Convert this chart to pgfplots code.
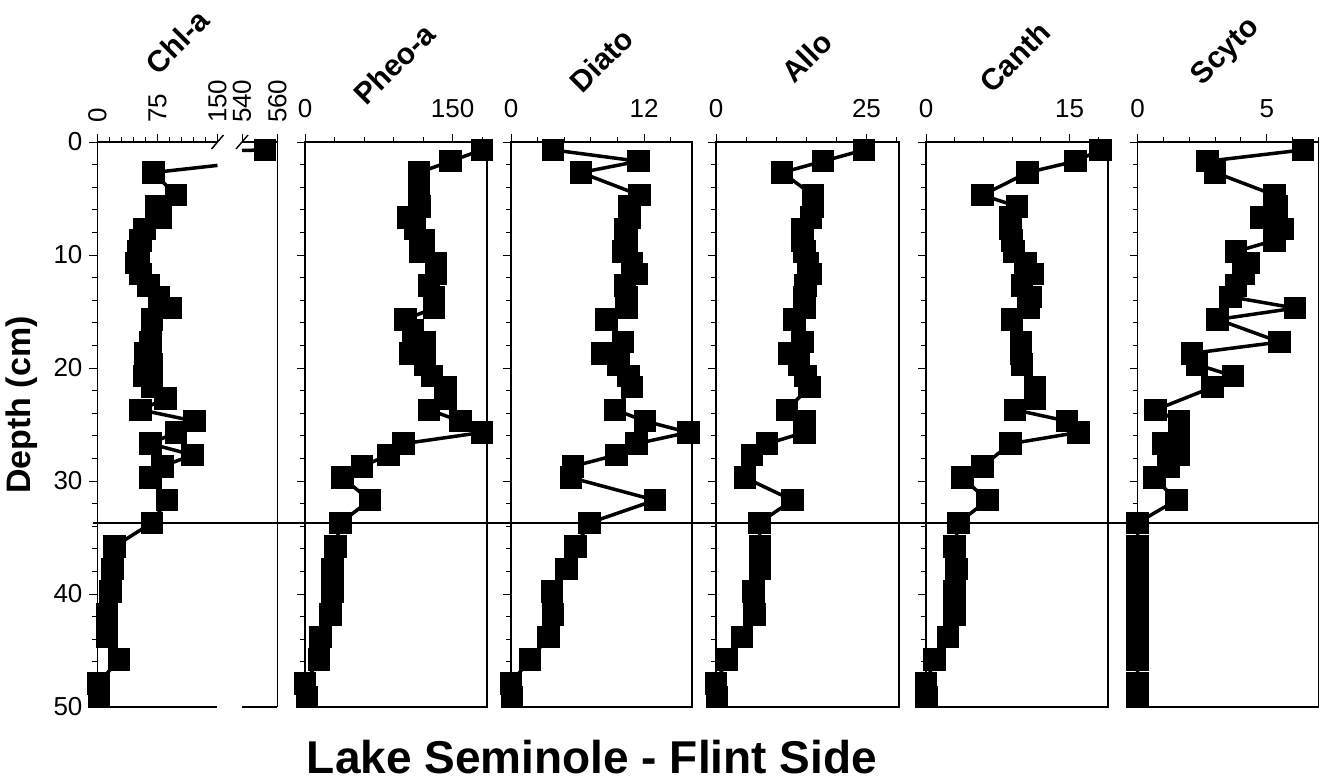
\documentclass[border=0pt]{standalone}
\usepackage{pgfplots}
\pgfplotsset{compat=1.18}
\usepackage{fontspec}
\setmainfont{Liberation Sans}
\pgfplotsset{
  panel/.style={
    scale only axis,
    height=282.5pt,
    anchor=south west,
    y dir=reverse,
    ymin=0, ymax=50,
    ytick={0,10,...,50},
    minor ytick={2,4,...,48},
    tick align=outside,
    xtick pos=right, xticklabel pos=right,
    ytick pos=left,
    major tick length=4pt,
    minor tick length=2.5pt,
    tick style={black, line width=0.5pt},
    axis line style={line width=0.9pt},
    ticklabel style={font=\fontsize{13}{15}\selectfont},
    /pgf/number format/assume math mode=true,
    clip=false,
    xmin=0,
  },
  upl/.style={xticklabel style={yshift=4.5pt}},
  rotl/.style={xticklabel style={yshift=2pt, rotate=90, anchor=west}},
  ser/.style={black, line width=1.75pt, mark=square*, mark size=4.75pt, mark options={solid}},
}
\begin{document}
\begin{tikzpicture}[x=1pt,y=1pt]
\useasboundingbox (0,0) rectangle (662,391);

% ---- Chl-a, left part (0-150)
\begin{axis}[panel, rotl, at={(48.75pt,37.5pt)}, width=60pt, xmin=0, xmax=150,
  xtick={0,75,150}, minor xtick={15,30,45,60,90,105,120,135},
  axis line style={draw=none}]
\addplot[ser, mark phase=2, mark repeat=1] coordinates {
(150,2.07) (70,2.7) (98,4.7) (73,5.7) (79,6.7) (59,7.7) (54,8.7) (51,9.7) (49,10.7)
(54,11.7) (64,12.7) (77,13.7) (92,14.7) (68,15.7) (66,17.7) (60,18.7) (68,19.7)
(58,20.7) (68,21.7) (85,22.7) (54,23.7) (121,24.7) (98,25.7) (66,26.7) (119,27.7)
(81,28.7) (66,29.7) (87,31.7) (68,33.7) (21,35.8) (19,37.8) (16,39.8) (12,41.8)
(12,43.8) (27,45.8) (1,47.9) (2,49.1)};
\draw[line width=0.9pt] (axis cs:0,0) -- (axis cs:150,0);
\draw[line width=0.9pt] (axis cs:0,50) -- (axis cs:150,50);
\draw[line width=0.9pt] (axis cs:0,0) -- (axis cs:0,50);
\draw[line width=0.7pt] ([xshift=-3pt,yshift=-3.5pt]axis cs:150,0) -- ([xshift=3pt,yshift=3.5pt]axis cs:150,0);
\draw[line width=0.8pt] (axis cs:-6,33.7) -- (axis cs:1527,33.7);
\end{axis}

% ---- Chl-a, right part (540-560)
\begin{axis}[panel, rotl, at={(121pt,37.5pt)}, width=17.75pt, xmin=540, xmax=560,
  xtick={540,560}, minor xtick={}, ytick=\empty, minor ytick={},
  axis line style={draw=none}]
\addplot[ser, mark repeat=100] coordinates {(553,0.7) (540,0.75)};
\draw[line width=0.9pt] (axis cs:540,0) -- (axis cs:560,0);
\draw[line width=0.9pt] (axis cs:540,50) -- (axis cs:560,50);
\draw[line width=0.9pt] (axis cs:560,0) -- (axis cs:560,50);
\draw[line width=0.7pt] ([xshift=-3pt,yshift=-3.5pt]axis cs:540,0) -- ([xshift=3pt,yshift=3.5pt]axis cs:540,0);
\end{axis}

% ---- Pheo-a
\begin{axis}[panel, upl, at={(152.5pt,37.5pt)}, width=91pt, xmax=185,
  xtick={0,150}, minor xtick={30,60,90,120,180}, yticklabels={}]
\addplot[ser] coordinates {
(180,0.7) (148,1.7) (116,2.7) (116,4.7) (117,5.7) (105,6.7) (112,7.7) (121,8.7)
(117,9.7) (133,10.7) (133,11.7) (126,12.7) (131,13.7) (131,14.7) (102,15.7)
(110,16.7) (122,17.7) (107,18.7) (122,19.7) (129,20.7) (143,21.7) (143,22.7)
(126,23.7) (158,24.7) (180,25.7) (100,26.7) (85,27.7) (58,28.7) (38,29.7)
(66,31.7) (36,33.7) (31,35.8) (28,37.8) (28,39.8) (26,41.8) (16,43.8) (14,45.8)
(0,47.9) (2,49.1)};
\end{axis}

% ---- Diato
\begin{axis}[panel, upl, at={(255.5pt,37.5pt)}, width=90.5pt, xmax=16.33,
  xtick={0,12}, minor xtick={2.4,4.8,7.2,9.6,14.4}, yticklabels={}]
\addplot[ser] coordinates {
(3.8,0.7) (11.5,1.7) (6.3,2.7) (11.6,4.7) (10.7,5.7) (10.7,6.7) (10.3,7.7)
(10.4,8.7) (10.1,9.7) (10.9,10.7) (11.3,11.7) (10.3,12.7) (10.4,13.7) (10.4,14.7)
(8.6,15.7) (10.1,17.7) (8.2,18.7) (9.7,19.7) (10.6,20.7) (10.9,21.7) (9.4,23.7)
(12.1,24.7) (16.0,25.7) (11.3,26.7) (9.5,27.7) (5.6,28.7) (5.4,29.7) (13.0,31.7)
(7.1,33.7) (5.8,35.8) (5.0,37.8) (3.7,39.8) (3.8,41.8) (3.4,43.8) (1.7,45.8)
(0,47.9) (0.1,49.1)};
\end{axis}

% ---- Allo
\begin{axis}[panel, upl, at={(358pt,37.5pt)}, width=91.5pt, xmax=30.4,
  xtick={0,25}, minor xtick={5,10,15,20,30}, yticklabels={}]
\addplot[ser] coordinates {
(24.6,0.7) (17.8,1.7) (11.0,2.7) (16.1,4.7) (16.1,5.7) (15.8,6.7) (14.4,7.7)
(14.4,8.7) (14.7,9.7) (15.3,10.7) (15.8,11.7) (14.9,12.7) (14.7,13.7) (14.7,14.7)
(13.0,15.7) (14.4,17.7) (12.1,18.7) (13.8,19.7) (14.9,20.7) (15.5,21.7) (11.8,23.7)
(14.7,24.7) (14.7,25.7) (8.5,26.7) (6.0,27.7) (4.8,29.7) (12.7,31.7) (7.2,33.7)
(7.3,35.8) (7.3,37.8) (6.2,39.8) (6.4,41.8) (4.3,43.8) (1.8,45.8) (0,47.9) (0.2,49.1)};
\end{axis}

% ---- Canth
\begin{axis}[panel, upl, at={(463pt,37.5pt)}, width=91pt, xmax=19,
  xtick={0,15}, minor xtick={3,6,9,12,18}, yticklabels={}]
\addplot[ser] coordinates {
(18.2,0.7) (15.6,1.7) (10.6,2.7) (5.9,4.7) (9.5,5.7) (8.8,6.7) (8.8,7.7) (9.0,8.7)
(9.2,9.7) (10.4,10.7) (11.1,11.7) (10.0,12.7) (10.9,13.7) (10.7,14.7) (9.0,15.7)
(9.9,17.7) (9.9,18.7) (10.0,19.7) (11.4,21.7) (11.4,22.7) (9.3,23.7) (14.7,24.7)
(15.9,25.7) (8.8,26.7) (5.9,28.7) (3.8,29.7) (6.4,31.7) (3.4,33.7) (3.0,35.8)
(3.2,37.8) (3.0,39.8) (3.0,41.8) (2.3,43.8) (0.9,45.8) (0,47.9) (0.05,49.1)};
\end{axis}

% ---- Scyto
\begin{axis}[panel, upl, at={(568.75pt,37.5pt)}, width=90.5pt, xmax=7,
  xtick={0,5}, minor xtick={1,2,3,4,6,7}, yticklabels={}]
\addplot[ser] coordinates {
(6.4,0.7) (2.7,1.7) (3.0,2.7) (5.3,4.7) (5.4,5.7) (4.8,6.7) (5.6,7.7) (5.3,8.7)
(3.8,9.7) (4.3,10.7) (4.1,11.7) (3.8,12.7) (3.6,13.7) (6.1,14.7) (3.1,15.7)
(5.5,17.7) (2.1,18.7) (2.3,19.7) (3.7,20.7) (2.9,21.7) (0.7,23.7) (1.6,24.7)
(1.6,25.7) (1.0,26.7) (1.6,27.7) (1.2,28.7) (0.65,29.7) (1.5,31.7) (0,33.7)
(0,35.8) (0,37.8) (0,39.8) (0,41.8) (0,43.8) (0,45.8) (0,47.9) (0,49.1)};
\end{axis}

% ---- titles
\begin{scope}[every node/.style={rotate=45, font=\bfseries\fontsize{15}{17}\selectfont}]
\node at (88.5,370) {Chl-a};
\node at (197,359) {Pheo-a};
\node at (300.5,361) {Diato};
\node at (403.5,362.5) {Allo};
\node at (507.5,362.5) {Canth};
\node at (613,365) {Scyto};
\end{scope}
\node[rotate=90, font=\bfseries\fontsize{17}{20}\selectfont] at (11,188.5) {Depth (cm)};
\node[font=\bfseries\fontsize{23}{26}\selectfont] at (296,12.5) {Lake Seminole - Flint Side};
\end{tikzpicture}
\end{document}
